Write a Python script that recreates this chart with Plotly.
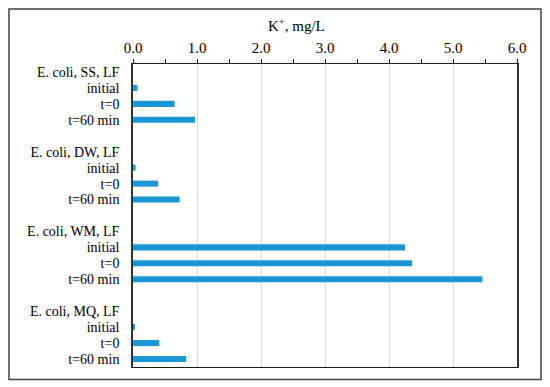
import plotly.graph_objects as go

groups = ["E. coli, SS, LF", "E. coli, DW, LF", "E. coli, WM, LF", "E. coli, MQ, LF"]
times = ["initial", "t=0", "t=60 min"]
k_values = [
    [0.07, 0.65, 0.97],
    [0.04, 0.39, 0.73],
    [4.25, 4.36, 5.46],
    [0.03, 0.41, 0.83],
]
x_ticks = [0, 1, 2, 3, 4, 5, 6]

# Build row positions: header row, three bar rows, blank row between groups
bar_y, bar_x, tickvals, ticktext = [], [], [], []
row = 0
for gi, g in enumerate(groups):
    tickvals.append(row); ticktext.append(g)
    row += 1
    for ti, t in enumerate(times):
        tickvals.append(row); ticktext.append(t)
        bar_y.append(row); bar_x.append(k_values[gi][ti])
        row += 1
    if gi < len(groups) - 1:
        row += 1
n_rows = row

fig = go.Figure(go.Bar(
    x=bar_x, y=bar_y, orientation="h",
    marker=dict(color="#1b96d6", line=dict(width=0)),
    width=0.38,
))

OFF = 8  # page body margin
W, H = 550 - OFF, 387 - OFF
L, R, T, B = 133 - OFF, 517 - OFF, 64 - OFF, 367 - OFF
pw, ph = R - L, B - T

def px_x(p):
    return (p - OFF - L) / pw

def px_y(p):
    return (B - (p - OFF)) / ph

yfont = dict(family="Liberation Serif, Times New Roman, serif", size=14, color="#000000")
xfont = dict(family="Liberation Serif, Times New Roman, serif", size=15, color="#000000")

fig.update_layout(
    width=W, height=H,
    margin=dict(l=L, r=W - R, t=T, b=H - B, autoexpand=False),
    paper_bgcolor="white", plot_bgcolor="white",
    font=yfont, showlegend=False,
    xaxis=dict(
        side="top", range=[0, 6], tickvals=x_ticks, tickformat=".1f",
        showgrid=True, gridcolor="#d9d9d9", gridwidth=1,
        zeroline=False, showline=True, linecolor="#1a1a1a", linewidth=1.2,
        mirror=True, ticks="outside", ticklen=4, tickcolor="#1a1a1a",
        minor=dict(dtick=0.5, tick0=0, ticks="outside", ticklen=4, tickcolor="#1a1a1a", showgrid=False),
        tickfont=xfont, automargin=False,
    ),
    yaxis=dict(
        range=[n_rows - 0.5, -0.5], tickvals=tickvals, ticktext=ticktext,
        showgrid=False, zeroline=False, showline=True, linecolor="#333333",
        linewidth=1.6, mirror=True, ticks="", ticklabelstandoff=9,
        tickfont=yfont, automargin=False,
    ),
    annotations=[dict(
        text="K<sup>+</sup>, mg/L", x=px_x(296), y=px_y(25), xref="paper", yref="paper",
        showarrow=False, font=xfont, xanchor="center", yanchor="middle",
    )],
    shapes=[dict(
        type="rect", xref="paper", yref="paper",
        x0=px_x(OFF + 1), x1=px_x(541), y0=px_y(379.5), y1=px_y(OFF + 1),
        line=dict(color="#404040", width=1.5),
    )],
)

fig.write_html("out.html")
